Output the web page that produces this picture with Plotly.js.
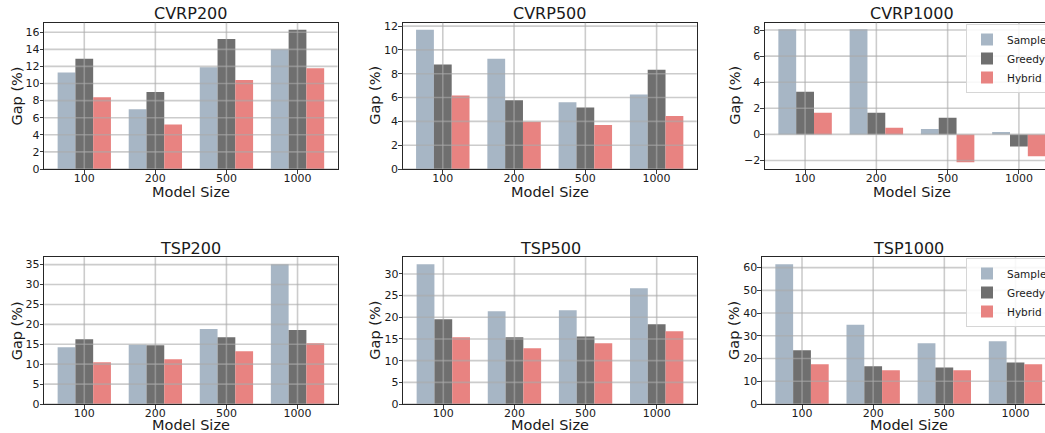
<!DOCTYPE html>
<html>
<head>
<meta charset="utf-8">
<script src="https://cdn.plot.ly/plotly-3.0.1.min.js"></script>
<style>
html, body { margin: 0; padding: 0; overflow: hidden; background: #fff; }
#chart { width: 1070px; height: 433px; }
</style>
</head>
<body>
<div id="chart"></div>
<script>
// ---------- data ----------
const categories = ['100', '200', '500', '1000'];
const seriesNames = ['Sample', 'Greedy', 'Hybrid'];
const panelTitles = ['CVRP200', 'CVRP500', 'CVRP1000', 'TSP200', 'TSP500', 'TSP1000'];

const cvrp200Sample = [11.3, 7.0, 11.9, 14.0];
const cvrp200Greedy = [12.9, 9.0, 15.2, 16.3];
const cvrp200Hybrid = [8.4, 5.2, 10.4, 11.8];

const cvrp500Sample = [11.7, 9.25, 5.6, 6.25];
const cvrp500Greedy = [8.78, 5.78, 5.17, 8.33];
const cvrp500Hybrid = [6.17, 3.97, 3.69, 4.44];

const cvrp1000Sample = [8.05, 8.05, 0.41, 0.18];
const cvrp1000Greedy = [3.26, 1.66, 1.27, -0.92];
const cvrp1000Hybrid = [1.66, 0.51, -2.14, -1.68];

const tsp200Sample = [14.27, 14.86, 18.8, 35.08];
const tsp200Greedy = [16.28, 14.77, 16.79, 18.55];
const tsp200Hybrid = [10.49, 11.25, 13.26, 15.28];

const tsp500Sample = [32.23, 21.38, 21.6, 26.7];
const tsp500Greedy = [19.54, 15.38, 15.6, 18.38];
const tsp500Hybrid = [15.38, 12.85, 14.0, 16.77];

const tsp1000Sample = [61.46, 34.9, 26.7, 27.58];
const tsp1000Greedy = [23.6, 16.58, 16.1, 18.3];
const tsp1000Hybrid = [17.46, 14.8, 14.8, 17.46];

const xAxisLabel = 'Model Size';
const yAxisLabel = 'Gap (%)';

// ---------- styles ----------
const colors = ['#a7b6c5', '#6f6f6f', '#e88381'];
const panelData = [
  [cvrp200Sample, cvrp200Greedy, cvrp200Hybrid],
  [cvrp500Sample, cvrp500Greedy, cvrp500Hybrid],
  [cvrp1000Sample, cvrp1000Greedy, cvrp1000Hybrid],
  [tsp200Sample, tsp200Greedy, tsp200Hybrid],
  [tsp500Sample, tsp500Greedy, tsp500Hybrid],
  [tsp1000Sample, tsp1000Greedy, tsp1000Hybrid]
];
const dticks = [2, 2, 2, 5, 5, 10];
const W = 1070, H = 433;
// pixel boxes [left, right, top, bottom]
const boxes = [
  [44.3, 337.5, 22.7, 169.0],
  [402.7, 696.7, 22.7, 169.0],
  [765.0, 1059.0, 22.7, 169.0],
  [44.3, 337.5, 257.3, 404.0],
  [403.3, 696.7, 257.3, 404.0],
  [762.0, 1055.5, 257.3, 404.0]
];
const yTitleShift = [-27.6, -27.7, -30, -27.6, -28.3, -28.7];
const xTitleShift = [-22.7, -22.7, -22.7, -21.3, -21.3, -21.3];
const FONT = 'DejaVu Sans, sans-serif';
const TXT = '#1a1a1a';
const gridColor = 'rgba(170,170,170,0.6)';

const traces = [];
const layout = {
  width: W, height: H, autosize: false,
  margin: {l: 0, r: 0, t: 0, b: 0},
  paper_bgcolor: '#fff', plot_bgcolor: '#fff',
  font: {family: FONT, color: TXT, size: 11},
  barmode: 'group', bargap: 0.25, bargroupgap: 0,
  showlegend: true,
  annotations: [], shapes: []
};

panelData.forEach((series, p) => {
  const n = p + 1;
  const xa = 'x' + (n === 1 ? '' : n), ya = 'y' + (n === 1 ? '' : n);
  const xk = 'xaxis' + (n === 1 ? '' : n), yk = 'yaxis' + (n === 1 ? '' : n);
  let legendId = null;
  if (p === 2) legendId = 'legend';
  if (p === 5) legendId = 'legend2';
  series.forEach((vals, s) => {
    traces.push({
      type: 'bar', x: categories, y: vals, name: seriesNames[s],
      xaxis: xa, yaxis: ya,
      marker: {color: colors[s], line: {width: 0}},
      showlegend: legendId !== null,
      legend: legendId || 'legend',
      hoverinfo: 'x+y+name'
    });
  });
  const all = [].concat(...series);
  let lo = Math.min(0, Math.min(...all)), hi = Math.max(0, Math.max(...all));
  const span = hi - lo;
  const yLo = lo < 0 ? lo - 0.05 * span : 0;
  const yHi = hi + 0.05 * span;
  const b = boxes[p];
  layout[xk] = {
    domain: [b[0] / W, b[1] / W], anchor: ya,
    type: 'category', range: [-0.5625, 3.5625],
    showgrid: false, zeroline: false,
    showline: true, mirror: true, linecolor: '#262626', linewidth: 1.1,
    ticks: 'outside', ticklen: 3.5, tickwidth: 0.9, tickcolor: '#262626',
    ticklabelstandoff: -5,
    tickfont: {family: FONT, size: 11, color: TXT},
    fixedrange: true
  };
  layout[yk] = {
    domain: [1 - b[3] / H, 1 - b[2] / H], anchor: xa,
    range: [yLo, yHi], dtick: dticks[p], tick0: 0,
    showgrid: false, zeroline: false,
    showline: true, mirror: true, linecolor: '#262626', linewidth: 1.1,
    ticks: 'outside', ticklen: 3.5, tickwidth: 0.9, tickcolor: '#262626',
    ticklabelstandoff: -2,
    tickfont: {family: FONT, size: 11, color: TXT},
    fixedrange: true
  };
  // grid drawn above bars (as in the reference)
  const first = Math.ceil(yLo / dticks[p]) * dticks[p];
  for (let v = first; v <= yHi + 1e-9; v += dticks[p]) {
    layout.shapes.push({type: 'line', layer: 'above', xref: xa + ' domain', x0: 0, x1: 1,
      yref: ya, y0: v, y1: v, line: {color: gridColor, width: 1.6}});
  }
  categories.forEach((c, i) => {
    layout.shapes.push({type: 'line', layer: 'above', xref: xa, x0: i, x1: i,
      yref: ya + ' domain', y0: 0, y1: 1, line: {color: gridColor, width: 1.6}});
  });
  // panel title
  layout.annotations.push({
    text: panelTitles[p], xref: xa + ' domain', yref: ya + ' domain',
    x: 0.5, y: 1, xanchor: 'center', yanchor: 'middle', yshift: 9,
    showarrow: false, font: {family: FONT, size: 16, color: TXT}
  });
  // x axis title
  layout.annotations.push({
    text: xAxisLabel, xref: xa + ' domain', yref: ya + ' domain',
    x: 0.5, y: 0, xanchor: 'center', yanchor: 'middle', yshift: xTitleShift[p],
    showarrow: false, font: {family: FONT, size: 14.5, color: TXT}
  });
  // y axis title
  layout.annotations.push({
    text: yAxisLabel, xref: xa + ' domain', yref: ya + ' domain',
    x: 0, y: 0.5, xanchor: 'center', yanchor: 'middle', xshift: yTitleShift[p],
    textangle: -90,
    showarrow: false, font: {family: FONT, size: 14.5, color: TXT}
  });
});

const legendStyle = {
  xanchor: 'left', yanchor: 'top',
  bgcolor: 'rgba(255,255,255,0.85)', bordercolor: '#d6d6d6', borderwidth: 1,
  font: {family: FONT, size: 10.5, color: TXT},
  itemwidth: 30, tracegroupgap: 0
};
layout.legend = Object.assign({}, legendStyle, {x: 966 / W, y: 1 - 24 / H});
layout.legend2 = Object.assign({}, legendStyle, {x: 966 / W, y: 1 - 258 / H});

Plotly.newPlot('chart', traces, layout, {displayModeBar: false, staticPlot: true});
</script>
</body>
</html>
